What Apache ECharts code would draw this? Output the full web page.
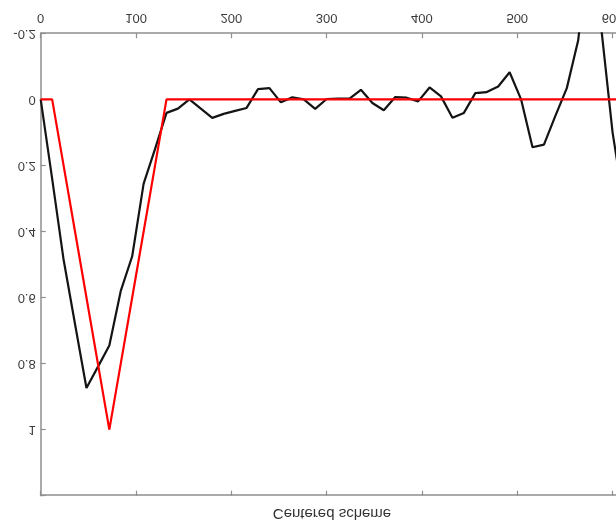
<!DOCTYPE html>
<html>
<head>
<meta charset="utf-8">
<script src="https://cdn.jsdelivr.net/npm/echarts@6/dist/echarts.min.js"></script>
<style>
  html, body { margin: 0; padding: 0; background: #fff; }
  /* the figure is presented mirrored top-to-bottom */
  #chart { width: 616px; height: 526px; transform: scaleY(-1); }
</style>
</head>
<body>
<div id="chart"></div>
<script>
// grid abscissae (dx = 12)
const xs = [0, 12, 24, 36, 48, 60, 72, 84, 96, 108, 120, 132, 144, 156, 168, 180, 192, 204,
  216, 228, 240, 252, 264, 276, 288, 300, 312, 324, 336, 348, 360, 372, 384, 396, 408,
  420, 432, 444, 456, 468, 480, 492, 504, 516, 528, 540, 552, 564, 576, 588, 600, 612];

// exact triangular pulse
const exact = [0, 0, 0.2, 0.4, 0.6, 0.8, 1, 0.8, 0.6, 0.4, 0.2, 0, 0, 0, 0, 0, 0, 0,
  0, 0, 0, 0, 0, 0, 0, 0, 0, 0, 0, 0, 0, 0, 0, 0, 0,
  0, 0, 0, 0, 0, 0, 0, 0, 0, 0, 0, 0, 0, 0, 0, 0, 0];

// centered-scheme numerical solution
const centered = [0, 0.24, 0.485, 0.68, 0.874, 0.81, 0.745, 0.58, 0.475, 0.255, 0.15, 0.041,
  0.028, 0, 0.028, 0.056, 0.044, 0.035, 0.026, -0.031, -0.034, 0.009, -0.006, 0, 0.029,
  -0.001, -0.002, -0.002, -0.029, 0.011, 0.033, -0.007, -0.005, 0.006, -0.036, -0.009,
  0.056, 0.041, -0.019, -0.022, -0.039, -0.082, 0, 0.145, 0.137, 0.05, -0.034, -0.18,
  -0.5, -0.22, 0.1, 0.32];

const xTicks = [0, 100, 200, 300, 400, 500, 600];
const yTicks = [-0.2, 0, 0.2, 0.4, 0.6, 0.8, 1];

const pairs = (ys) => xs.map((x, i) => [x, ys[i]]);

const axisGray = '#8f8f8f';
const labelColor = '#3a3a3a';
const font = 'Liberation Sans, Arial, Helvetica, sans-serif';

const chart = echarts.init(document.getElementById('chart'), null, { renderer: 'canvas' });
chart.setOption({
  animation: false,
  backgroundColor: '#fff',
  title: {
    text: 'Centered scheme',
    left: 332,
    top: 5,
    padding: 0,
    textAlign: 'center',
    textStyle: { fontFamily: font, fontSize: 15, fontWeight: 'normal', color: '#333' }
  },
  grid: {
    left: 40.7, right: -8, top: 30.3, bottom: 33.3,
    containLabel: false, outerBoundsMode: 'none'
  },
  xAxis: [
    {
      type: 'value', position: 'bottom', min: 0, max: 612, interval: 100,
      axisLine: { show: true, onZero: false, lineStyle: { color: axisGray, width: 1.5 } },
      axisTick: { show: true, inside: true, length: 5, lineStyle: { color: axisGray, width: 1.2 } },
      axisLabel: {
        margin: 9, fontSize: 13, fontFamily: font, color: labelColor,
        showMaxLabel: false,
        formatter: (v) => (xTicks.includes(Math.round(v)) && Math.abs(v - Math.round(v)) < 1e-6 ? String(Math.round(v)) : '')
      },
      splitLine: { show: false }
    },
    {
      type: 'value', position: 'top', min: 0, max: 612, interval: 100,
      axisLine: { show: true, onZero: false, lineStyle: { color: axisGray, width: 1.5 } },
      axisTick: { show: true, inside: true, length: 5, lineStyle: { color: axisGray, width: 1.2 } },
      axisLabel: { show: false },
      splitLine: { show: false }
    }
  ],
  yAxis: {
    type: 'value', min: -0.2, max: 1.2, interval: 0.2,
    axisLine: { show: true, onZero: false, lineStyle: { color: axisGray, width: 1.5 } },
    axisTick: { show: true, inside: true, length: 5, lineStyle: { color: axisGray, width: 1.2 } },
    axisLabel: {
      margin: 5, fontSize: 13, fontFamily: font, color: labelColor,
      formatter: (v) => {
        const r = Math.round(v * 10) / 10;
        return yTicks.includes(r) ? String(r) : '';
      }
    },
    splitLine: { show: false }
  },
  series: [
    {
      type: 'line', name: 'centered', xAxisIndex: 0, data: pairs(centered),
      showSymbol: false, symbol: 'none', smooth: false, clip: true,
      lineStyle: { color: '#141414', width: 2.2 }
    },
    {
      type: 'line', name: 'exact', xAxisIndex: 0, data: pairs(exact),
      showSymbol: false, symbol: 'none', smooth: false, clip: true,
      lineStyle: { color: '#ff0000', width: 2.2 }
    }
  ]
});
</script>
</body>
</html>
